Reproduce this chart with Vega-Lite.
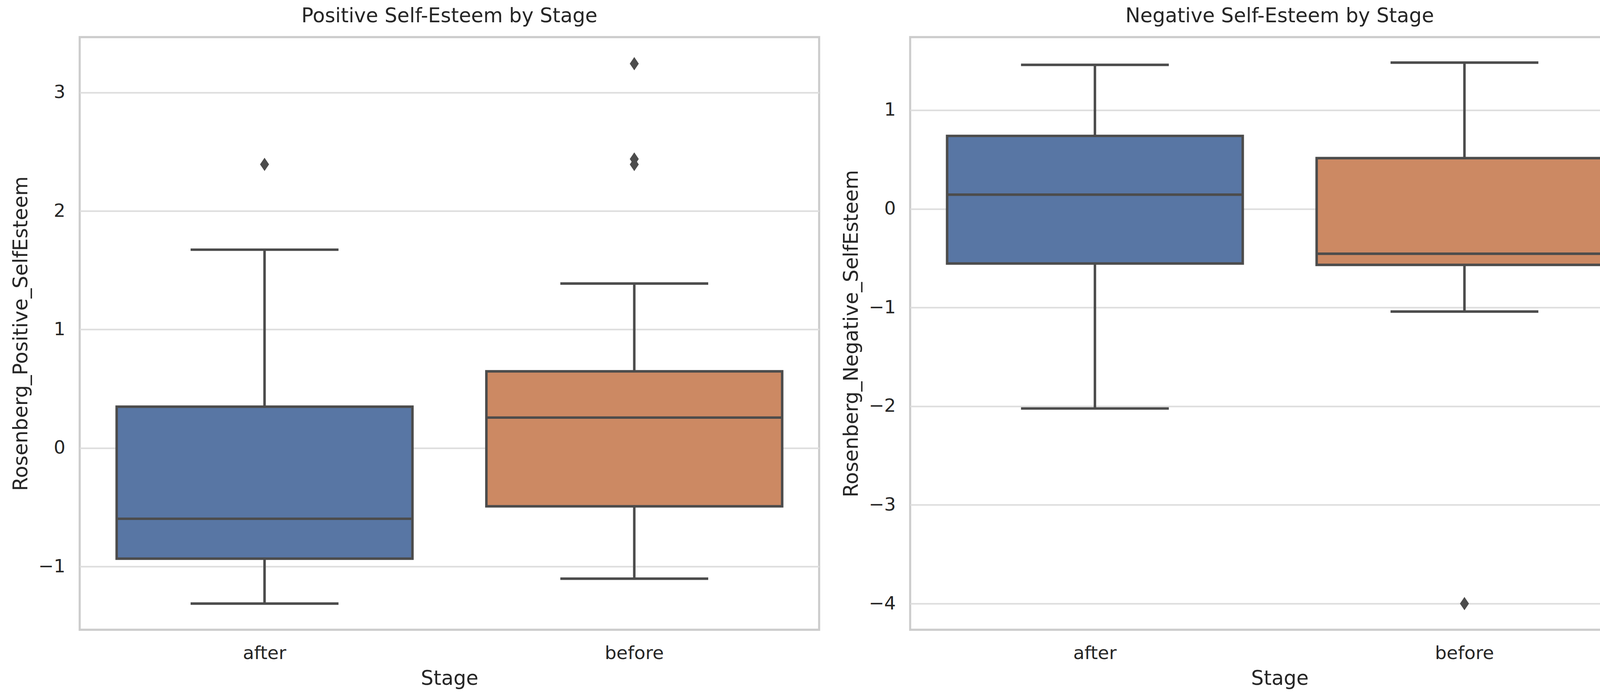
{
  "$schema": "https://vega.github.io/schema/vega-lite/v6.json",
  "padding": {"left": 26, "top": 13, "right": 5, "bottom": 12},
  "background": "white",
  "bounds": "flush",
  "spacing": 233,
  "datasets": {
    "pos_stats": [
      {"Stage": "after", "lower": -1.313, "q1": -0.934, "median": -0.597, "q3": 0.349, "upper": 1.674},
      {"Stage": "before", "lower": -1.103, "q1": -0.492, "median": 0.257, "q3": 0.647, "upper": 1.388}
    ],
    "pos_out": [
      {"Stage": "after", "value": 2.394},
      {"Stage": "before", "value": 3.244},
      {"Stage": "before", "value": 2.439},
      {"Stage": "before", "value": 2.393}
    ],
    "neg_stats": [
      {"Stage": "after", "lower": -2.023, "q1": -0.554, "median": 0.144, "q3": 0.739, "upper": 1.459},
      {"Stage": "before", "lower": -1.041, "q1": -0.568, "median": -0.455, "q3": 0.514, "upper": 1.482}
    ],
    "neg_out": [
      {"Stage": "before", "value": -4.0}
    ]
  },
  "hconcat": [
    {
      "title": "Positive Self-Esteem by Stage",
      "width": 1893,
      "height": 1517,
      "data": {"name": "pos_stats"},
      "encoding": {
        "x": {"field": "Stage", "type": "nominal", "title": "Stage",
              "scale": {"type": "band", "domain": ["after", "before"], "paddingInner": 0, "paddingOuter": 0}}
      },
      "layer": [
        {
          "mark": {"type": "rule", "color": "#4c4c4c", "strokeWidth": 6.4},
          "encoding": {
            "y": {"field": "lower", "type": "quantitative", "title": "Rosenberg_Positive_SelfEsteem",
                  "scale": {"domain": [-1.534, 3.468], "nice": false, "zero": false},
                  "axis": {"values": [-1, 0, 1, 2, 3], "format": "d"}},
            "y2": {"field": "upper"}
          }
        },
        {
          "mark": {"type": "bar", "width": {"band": 0.8}, "stroke": "#4c4c4c", "strokeWidth": 6.4, "opacity": 1},
          "encoding": {
            "y": {"field": "q1", "type": "quantitative"},
            "y2": {"field": "q3"},
            "color": {"field": "Stage", "type": "nominal", "legend": null,
                      "scale": {"domain": ["after", "before"], "range": ["#5876a4", "#cc8963"]}}
          }
        },
        {
          "mark": {"type": "tick", "size": 757, "thickness": 6.4, "color": "#4c4c4c", "opacity": 1},
          "encoding": {"y": {"field": "median", "type": "quantitative"}}
        },
        {
          "mark": {"type": "tick", "size": 378.6, "thickness": 6.4, "color": "#4c4c4c", "opacity": 1},
          "encoding": {"y": {"field": "lower", "type": "quantitative"}}
        },
        {
          "mark": {"type": "tick", "size": 378.6, "thickness": 6.4, "color": "#4c4c4c", "opacity": 1},
          "encoding": {"y": {"field": "upper", "type": "quantitative"}}
        },
        {
          "data": {"name": "pos_out"},
          "mark": {"type": "point", "shape": "M0,-1L0.68,0L0,1L-0.68,0Z", "filled": true, "size": 1156, "color": "#4c4c4c", "opacity": 1},
          "encoding": {"y": {"field": "value", "type": "quantitative"}}
        }
      ]
    },
    {
      "title": "Negative Self-Esteem by Stage",
      "width": 1892,
      "height": 1517,
      "data": {"name": "neg_stats"},
      "encoding": {
        "x": {"field": "Stage", "type": "nominal", "title": "Stage",
              "scale": {"type": "band", "domain": ["after", "before"], "paddingInner": 0, "paddingOuter": 0}}
      },
      "layer": [
        {
          "mark": {"type": "rule", "color": "#4c4c4c", "strokeWidth": 6.4},
          "encoding": {
            "y": {"field": "lower", "type": "quantitative", "title": "Rosenberg_Negative_SelfEsteem",
                  "scale": {"domain": [-4.265, 1.74], "nice": false, "zero": false},
                  "axis": {"values": [-4, -3, -2, -1, 0, 1], "format": "d"}},
            "y2": {"field": "upper"}
          }
        },
        {
          "mark": {"type": "bar", "width": {"band": 0.8}, "stroke": "#4c4c4c", "strokeWidth": 6.4, "opacity": 1},
          "encoding": {
            "y": {"field": "q1", "type": "quantitative"},
            "y2": {"field": "q3"},
            "color": {"field": "Stage", "type": "nominal", "legend": null,
                      "scale": {"domain": ["after", "before"], "range": ["#5876a4", "#cc8963"]}}
          }
        },
        {
          "mark": {"type": "tick", "size": 757, "thickness": 6.4, "color": "#4c4c4c", "opacity": 1},
          "encoding": {"y": {"field": "median", "type": "quantitative"}}
        },
        {
          "mark": {"type": "tick", "size": 378.4, "thickness": 6.4, "color": "#4c4c4c", "opacity": 1},
          "encoding": {"y": {"field": "lower", "type": "quantitative"}}
        },
        {
          "mark": {"type": "tick", "size": 378.4, "thickness": 6.4, "color": "#4c4c4c", "opacity": 1},
          "encoding": {"y": {"field": "upper", "type": "quantitative"}}
        },
        {
          "data": {"name": "neg_out"},
          "mark": {"type": "point", "shape": "M0,-1L0.68,0L0,1L-0.68,0Z", "filled": true, "size": 1156, "color": "#4c4c4c", "opacity": 1},
          "encoding": {"y": {"field": "value", "type": "quantitative"}}
        }
      ]
    }
  ],
  "resolve": {"scale": {"y": "independent", "x": "independent", "color": "independent"}},
  "config": {
    "font": "DejaVu Sans",
    "view": {"stroke": "#cccccc", "strokeWidth": 5.3},
    "axis": {
      "labelFont": "DejaVu Sans", "titleFont": "DejaVu Sans",
      "labelFontSize": 47, "titleFontSize": 51,
      "labelColor": "#262626", "titleColor": "#262626",
      "titleFontWeight": "normal",
      "ticks": false, "tickSize": 0, "domain": false,
      "labelPadding": 37, "titlePadding": 17
    },
    "axisX": {"grid": false, "labelAngle": 0},
    "axisY": {"grid": true, "gridColor": "#dddddd", "gridWidth": 4},
    "title": {"font": "DejaVu Sans", "fontSize": 51, "fontWeight": "normal", "color": "#262626", "baseline": "alphabetic", "offset": 27, "anchor": "middle"}
  }
}
